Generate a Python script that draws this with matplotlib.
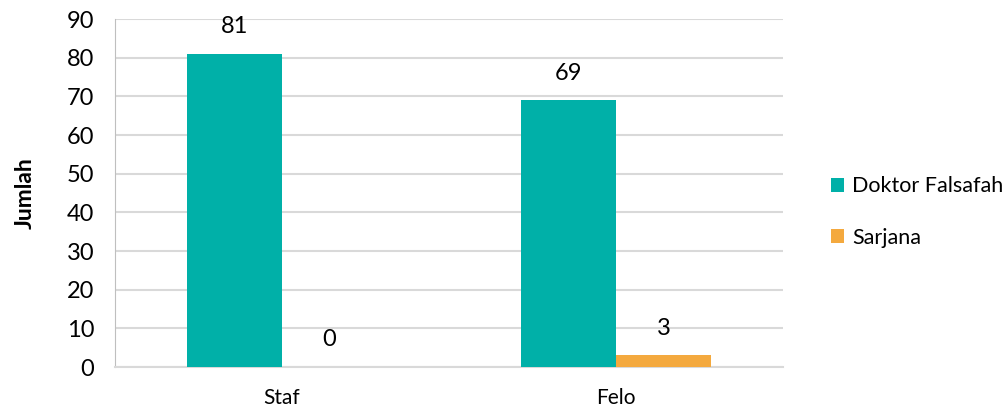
import matplotlib
matplotlib.use("Agg")
import matplotlib.pyplot as plt
import numpy as np

categories = ["Staf", "Felo"]
doktor = [81, 69]
sarjana = [0, 3]
series_names = ["Doktor Falsafah", "Sarjana"]
colors = ["#00B0A8", "#F4A93E"]

plt.rcParams['font.family'] = ['Lato', 'DejaVu Sans']

fig = plt.figure(figsize=(10.08, 4.17), dpi=100)
ax = fig.add_axes([115/1008, 1-367/417, (783-115)/1008, (367-19)/417])

x = np.arange(len(categories))
w = 0.284
b1 = ax.bar(x - w/2, doktor, w, color=colors[0], label=series_names[0], zorder=3)
b2 = ax.bar(x + w/2, sarjana, w, color=colors[1], label=series_names[1], zorder=3)

for bars, vals in ((b1, doktor), (b2, sarjana)):
    for r, v in zip(bars, vals):
        ax.annotate(str(v), (r.get_x() + r.get_width()/2, v), xytext=(0, 12),
                    textcoords='offset points', ha='center', va='bottom',
                    fontsize=17, color='#000000')

ax.set_xlim(-0.5, 1.5)
ax.set_ylim(0, 90)
ax.set_yticks(range(0, 91, 10))
ax.set_xticks(x)
ax.set_xticklabels(categories)
ax.tick_params(axis='both', length=0, colors='#000000')
ax.tick_params(axis='x', pad=15, labelsize=15)
ax.tick_params(axis='y', pad=15, labelsize=17)
ax.yaxis.grid(True, color='#D9D9D9', linewidth=1.5, zorder=0)
ax.set_axisbelow(True)
for s in ['top', 'right']:
    ax.spines[s].set_visible(False)
ax.spines['left'].set_color('#BFBFBF')
ax.spines['bottom'].set_color('#D9D9D9')
ax.spines['bottom'].set_linewidth(1.5)
ax.set_ylabel("Jumlah", fontsize=16.5, fontweight='bold', labelpad=22)

leg = fig.legend(handles=[b1, b2], loc='upper left', bbox_to_anchor=(812/1008, 1-157/417),
                 frameon=False, fontsize=15.5, handlelength=0.6, handleheight=0.6,
                 handletextpad=0.35, labelspacing=1.45)

fig.savefig("out.png", dpi=100)
